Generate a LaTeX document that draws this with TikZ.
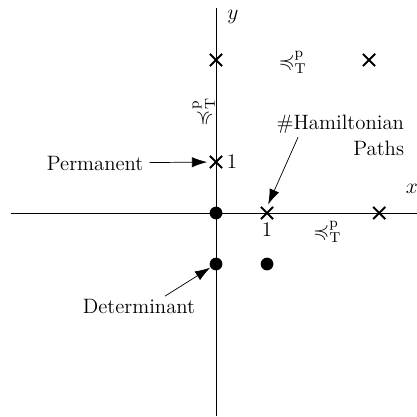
\documentclass[tikz,border=0pt]{standalone}
\usepackage{amssymb}
\usetikzlibrary{arrows.meta,shapes.misc}
\begin{document}
\begin{tikzpicture}[
    txt/.style={font=\fontsize{11.6}{14.5}\selectfont},
    xmark/.style={cross out, draw, line width=1.1pt, minimum size=0.2cm, inner sep=0pt},
    dotmark/.style={circle, fill, minimum size=0.25cm, inner sep=0pt},
    pointer/.style={-{Latex[length=3mm,width=2mm]}, shorten >=1.5pt}
]
    \useasboundingbox (-4.235,-3.98) rectangle (3.94,4.176);
    % Axes
    \draw (-4.02,0) -- (3.96,0);
    \draw (0,-3.98) -- (0,4.02);
    \node[txt] (xlab) at (3.84,0.47) {$x$};
    \node[txt] (ylab) at (0.33,3.84) {$y$};
    % Crosses
    \node[xmark] (c03) at (0,3) {};
    \node[xmark] (c33) at (3,3) {};
    \node[xmark, label={[txt, inner sep=2.5pt]right:1}] (c01) at (0,1) {};
    \node[xmark, label={[txt, inner sep=2pt]below:1}] (c10) at (1,0) {};
    \node[xmark] (c30) at (3.2,0) {};
    % Dots
    \node[dotmark] (d00) at (0,0) {};
    \node[dotmark] (d0m) at (0,-1) {};
    \node[dotmark] (d1m) at (1,-1) {};
    % Reductions
    \node[txt] (redtop) at (1.5,2.95) {$\preccurlyeq^{\mathrm{p}}_{\mathrm{T}}$};
    \node[txt] (redbot) at (2.18,-0.37) {$\preccurlyeq^{\mathrm{p}}_{\mathrm{T}}$};
    \node[txt, rotate=90] (redleft) at (-0.24,1.98) {$\preccurlyeq^{\mathrm{p}}_{\mathrm{T}}$};
    % Problems
    \node[txt] (perm) at (-2.37,0.98) {Permanent};
    \draw[pointer] (perm) -- (c01);
    \node[txt, align=right, anchor=east] (ham) at (3.81,1.53) {\#Hamiltonian\\Paths};
    \coordinate (hamstart) at (1.61,1.49);
    \draw[pointer] (hamstart) -- (c10.north);
    \node[txt] (det) at (-1.51,-1.84) {Determinant};
    \coordinate (detstart) at (-1.0,-1.63);
    \draw[pointer, shorten >=0pt] (detstart) -- (d0m);
\end{tikzpicture}
\end{document}
